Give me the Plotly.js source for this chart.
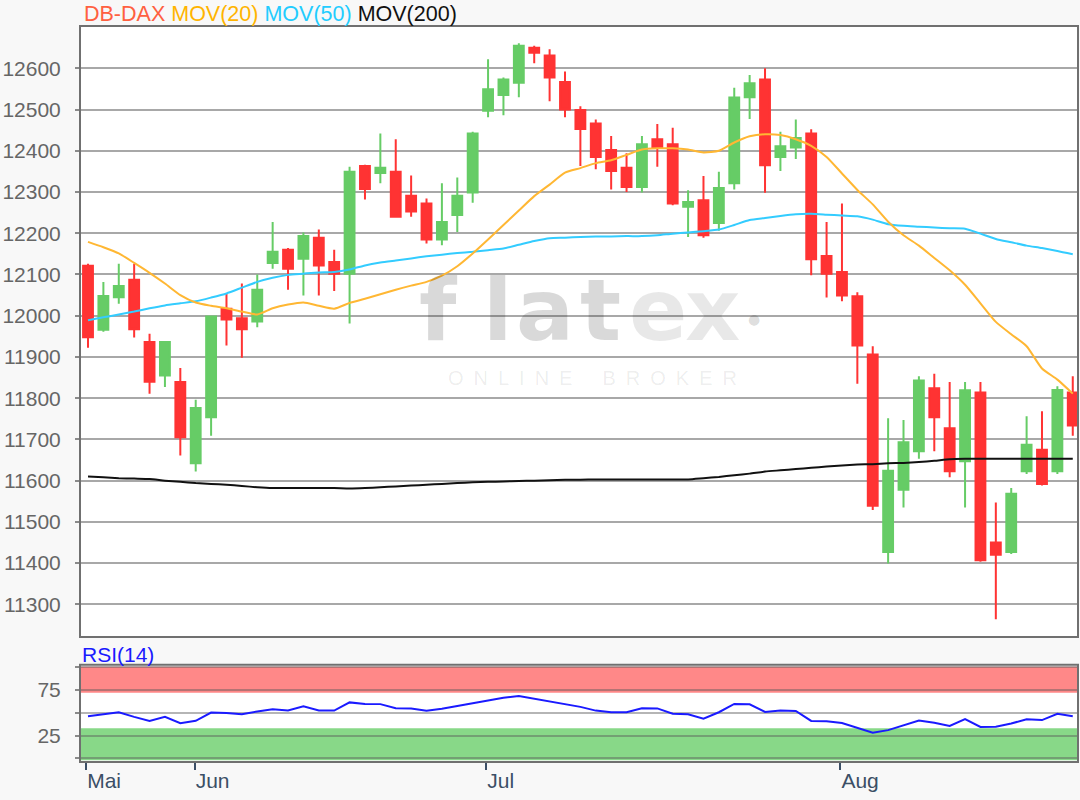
<!DOCTYPE html>
<html>
<head>
<meta charset="utf-8">
<script src="https://cdn.plot.ly/plotly-3.0.1.min.js"></script>
<style>
html,body{margin:0;padding:0;background:#f8f8f8;}
#chart{width:1080px;height:800px;}
</style>
</head>
<body>
<div id="chart"></div>
<script>
// ---- data ----
const dates = [
 '2019-05-23','2019-05-24','2019-05-27','2019-05-28','2019-05-29','2019-05-30','2019-05-31',
 '2019-06-03','2019-06-04','2019-06-05','2019-06-06','2019-06-07','2019-06-11','2019-06-12','2019-06-13','2019-06-14',
 '2019-06-17','2019-06-18','2019-06-19','2019-06-20','2019-06-21','2019-06-24','2019-06-25','2019-06-26','2019-06-27','2019-06-28',
 '2019-07-01','2019-07-02','2019-07-03','2019-07-04','2019-07-05','2019-07-08','2019-07-09','2019-07-10','2019-07-11','2019-07-12',
 '2019-07-15','2019-07-16','2019-07-17','2019-07-18','2019-07-19','2019-07-22','2019-07-23','2019-07-24','2019-07-25','2019-07-26',
 '2019-07-29','2019-07-30','2019-07-31',
 '2019-08-01','2019-08-02','2019-08-05','2019-08-06','2019-08-07','2019-08-08','2019-08-09','2019-08-12','2019-08-13','2019-08-14',
 '2019-08-15','2019-08-16','2019-08-19','2019-08-20','2019-08-21','2019-08-22'
];
const openP = [12121,11966,12045,12087,11936,11855,11839,11642,11754,12017,11994,11986,12128,12160,12138,12189,12130,12102,12363,12346,
 12349,12291,12272,12185,12244,12299,12497,12535,12565,12650,12631,12567,12499,12466,12402,12359,12312,12428,12416,12264,
 12280,12225,12321,12530,12573,12385,12408,12442,12145,12106,12047,11906,11427,11578,11671,11824,11727,11647,11814,11450,
 11427,11623,11675,11623,11814];
const highP = [12126,12082,12126,12126,11956,11938,11873,11796,12000,12053,12078,12100,12227,12164,12202,12209,12160,12361,12366,12442,
 12428,12340,12284,12321,12335,12446,12622,12578,12661,12655,12646,12592,12508,12476,12436,12394,12436,12465,12456,12304,
 12339,12349,12553,12584,12600,12446,12476,12452,12227,12272,12057,11926,11751,11747,11853,11859,11839,11839,11839,11547,
 11582,11756,11768,11829,11853];
const lowP = [11922,11961,12029,11947,11811,11827,11661,11622,11709,11928,11898,11972,12114,12063,12049,12049,12060,11981,12282,12321,
 12238,12240,12175,12171,12203,12274,12481,12486,12530,12612,12520,12481,12363,12355,12306,12300,12299,12361,12268,12191,
 12189,12206,12306,12477,12298,12351,12380,12098,12044,12035,11835,11529,11399,11535,11653,11671,11608,11535,11403,11264,
 11422,11616,11588,11616,11709];
const closeP = [11948,12048,12072,11967,11840,11936,11705,11776,11998,11991,11967,12063,12155,12114,12193,12122,12102,12349,12307,12359,
 12240,12253,12185,12227,12291,12442,12549,12573,12655,12638,12578,12500,12453,12385,12351,12312,12416,12408,12272,12276,
 12195,12310,12529,12564,12365,12411,12431,12137,12102,12049,11928,11539,11624,11693,11843,11754,11623,11819,11407,11420,
 11568,11687,11592,11820,11734];
const mov20 = [12179,12166,12151,12128,12104,12078,12050,12032,12024,12018,12010,12003,12018,12027,12032,12024,12017,12031,12041,12052,
 12063,12073,12082,12097,12120,12151,12185,12220,12255,12290,12318,12347,12358,12370,12377,12390,12403,12406,12406,12403,
 12396,12400,12420,12435,12440,12438,12428,12412,12385,12345,12305,12270,12228,12195,12170,12140,12110,12075,12030,11985,
 11955,11926,11872,11845,11811];
const mov50 = [11989,11996,12003,12010,12018,12025,12030,12035,12044,12054,12068,12082,12092,12099,12102,12105,12106,12112,12122,12129,
 12134,12139,12144,12148,12152,12155,12159,12163,12172,12181,12188,12189,12191,12192,12192,12193,12193,12195,12199,12202,
 12205,12209,12220,12232,12237,12242,12246,12247,12245,12243,12241,12233,12222,12218,12216,12214,12212,12211,12199,12186,
 12178,12170,12164,12157,12149];
const mov200 = [11610,11608,11606,11605,11604,11600,11597,11594,11592,11590,11587,11584,11582,11582,11582,11582,11582,11581,11582,11584,
 11586,11588,11590,11592,11594,11596,11597,11598,11599,11600,11601,11602,11602,11603,11603,11603,11603,11603,11603,11603,
 11606,11609,11613,11617,11622,11625,11628,11631,11634,11637,11639,11640,11642,11643,11645,11648,11652,11653,11653,11653,
 11653,11653,11653,11653,11653];
const rsi14 = [46.2,48.5,50.5,45.5,41.0,45.7,38.6,41.2,50.2,49.9,48.4,51.5,54.0,52.5,57.0,52.5,52.5,61.4,59.7,59.5,
 55.0,54.7,52.2,54.5,57.5,61.0,64.0,66.5,68.5,65.5,62.5,59.2,56.5,52.4,50.6,50.7,55.0,54.8,49.0,48.4,
 43.5,50.6,59.7,59.3,51.0,52.5,52.0,41.1,40.8,38.8,33.5,28.2,31.0,36.0,41.5,39.0,35.5,43.0,34.5,34.7,
 38.2,43.0,42.0,49.0,46.2];
const priceTicks = [11300,11400,11500,11600,11700,11800,11900,12000,12100,12200,12300,12400,12500,12600];
const rsiTicks = [0,25,50,75,100];
const rsiTickText = ['','25','','75',''];
const monthTickPos = [-0.12, 6.93, 25.88, 48.9];
const monthTickText = ['Mai','Jun','Jul','Aug'];

// ---- drawing ----
const xi = dates.map((d, i) => i);
const W = 1080, H = 800, ML = 80, MR = 2, MT = 26, MB = 38;
const px = x => (x - ML) / (W - ML - MR);
const py = y => (H - MB - y) / (H - MT - MB);

const FONT = 'Arial, "Liberation Sans", sans-serif';
const GREEN = '#66CC66', RED = '#FF3333';

const traces = [
  {
    type: 'candlestick', x: xi, open: openP, high: highP, low: lowP, close: closeP,
    text: dates, hoverinfo: 'text+y',
    xaxis: 'x', yaxis: 'y',
    increasing: {line: {color: GREEN, width: 2}, fillcolor: GREEN},
    decreasing: {line: {color: RED, width: 2}, fillcolor: RED},
    whiskerwidth: 0, showlegend: false
  },
  {type: 'scatter', mode: 'lines', x: xi, y: mov200, xaxis: 'x', yaxis: 'y',
   line: {color: '#111111', width: 2, shape: 'spline', smoothing: 0.6}, showlegend: false, hoverinfo: 'skip'},
  {type: 'scatter', mode: 'lines', x: xi, y: mov50, xaxis: 'x', yaxis: 'y',
   line: {color: '#33CCFF', width: 2, shape: 'spline', smoothing: 0.6}, showlegend: false, hoverinfo: 'skip'},
  {type: 'scatter', mode: 'lines', x: xi, y: mov20, xaxis: 'x', yaxis: 'y',
   line: {color: '#FFB733', width: 2, shape: 'spline', smoothing: 0.6}, showlegend: false, hoverinfo: 'skip'},
  {type: 'scatter', mode: 'lines', x: xi, y: rsi14, xaxis: 'x', yaxis: 'y2',
   line: {color: '#1a1aff', width: 2}, showlegend: false, hoverinfo: 'skip'}
];

const wmLetters = [
  {t: 'f', x: 438, c: 'rgba(0,0,0,0.15)'},
  {t: 'l', x: 497, c: 'rgba(0,0,0,0.15)'},
  {t: 'a', x: 545, c: 'rgba(0,0,0,0.15)'},
  {t: 't', x: 600, c: 'rgba(0,0,0,0.15)'},
  {t: 'e', x: 658, c: 'rgba(0,0,0,0.09)'},
  {t: 'x', x: 712, c: 'rgba(0,0,0,0.09)'}
];
const annotations = wmLetters.map(l => ({
  xref: 'paper', yref: 'paper', x: px(l.x), y: py(310), xanchor: 'center', yanchor: 'middle',
  text: l.t, showarrow: false, font: {family: '"DejaVu Sans", sans-serif', size: 86, color: l.c, weight: 'bold'}
}));
annotations.push({
  xref: 'paper', yref: 'paper', x: px(754), y: py(319), xanchor: 'center', yanchor: 'middle',
  text: '●', showarrow: false, font: {family: '"DejaVu Sans", sans-serif', size: 14, color: 'rgba(0,0,0,0.15)'}
});
annotations.push({
  xref: 'paper', yref: 'paper', x: px(592), y: py(378), xanchor: 'center', yanchor: 'middle',
  text: 'O\u2002N\u2002L\u2002I\u2002N\u2002E\u2002\u2002\u2002B\u2002R\u2002O\u2002K\u2002E\u2002R', showarrow: false,
  font: {family: FONT, size: 20, color: 'rgba(0,0,0,0.08)'}
});
annotations.push({
  xref: 'paper', yref: 'paper', x: px(82), y: py(14), xanchor: 'left', yanchor: 'middle', showarrow: false,
  text: '<span style="color:#FF6040">DB-DAX</span> <span style="color:#FFB400">MOV(20)</span> <span style="color:#22CCFF">MOV(50)</span> <span style="color:#111111">MOV(200)</span>',
  font: {family: FONT, size: 21.5, color: '#111'}
});
annotations.push({
  xref: 'paper', yref: 'paper', x: px(80), y: py(654), xanchor: 'left', yanchor: 'middle', showarrow: false,
  text: 'RSI(14)', font: {family: FONT, size: 21, color: '#1a1aff'}
});

const shapes = [
  {type: 'rect', xref: 'x domain', yref: 'y2', x0: 0, x1: 1, y0: 72, y1: 100.4, fillcolor: '#FF8888', line: {width: 0}, layer: 'below'},
  {type: 'rect', xref: 'x domain', yref: 'y2', x0: 0, x1: 1, y0: -2, y1: 33, fillcolor: '#88D888', line: {width: 0}, layer: 'below'},
  {type: 'rect', xref: 'x domain', yref: 'y domain', x0: 0, x1: 1, y0: 0, y1: 1, line: {color: '#707070', width: 2}, layer: 'above'},
  {type: 'rect', xref: 'x domain', yref: 'y2 domain', x0: 0, x1: 1, y0: 0, y1: 1, line: {color: '#707070', width: 2}, layer: 'above'}
];

const layout = {
  width: W, height: H,
  margin: {l: ML, r: MR, t: MT, b: MB, pad: 0},
  paper_bgcolor: '#f8f8f8', plot_bgcolor: '#ffffff',
  showlegend: false, hovermode: 'closest',
  boxgap: 0, boxgroupgap: 0.36,
  font: {family: FONT, size: 21, color: '#666'},
  xaxis: {
    anchor: 'y2', range: [-0.52, 64.34], showgrid: false, zeroline: false, showline: false,
    tickmode: 'array', tickvals: monthTickPos, ticktext: monthTickText,
    ticks: 'outside', ticklen: 7, tickwidth: 2, tickcolor: '#3b4f66',
    ticklabelposition: 'outside right',
    tickfont: {family: FONT, size: 21, color: '#3b4f66'},
    rangeslider: {visible: false}, fixedrange: true
  },
  yaxis: {
    domain: [0.1698, 1], range: [11220.7, 12702.6],
    tickmode: 'array', tickvals: priceTicks, tickformat: 'd',
    showgrid: true, gridcolor: '#a8a8a8', gridwidth: 2, zeroline: false, showline: false,
    ticks: 'outside', ticklen: 4, tickcolor: '#8a8a8a', tickwidth: 2,
    tickfont: {family: FONT, size: 21, color: '#666'}, ticklabelstandoff: 10, fixedrange: true
  },
  yaxis2: {
    domain: [0, 0.1321], range: [-3.9, 102.6],
    tickmode: 'array', tickvals: rsiTicks, ticktext: rsiTickText,
    showgrid: true, gridcolor: 'rgba(90,90,90,0.45)', gridwidth: 2, zeroline: false, showline: false,
    ticks: 'outside', ticklen: 4, tickcolor: '#8a8a8a', tickwidth: 2,
    tickfont: {family: FONT, size: 21, color: '#666'}, ticklabelstandoff: 10, fixedrange: true
  },
  shapes: shapes,
  annotations: annotations
};

Plotly.newPlot('chart', traces, layout, {displayModeBar: false, staticPlot: false});
</script>
</body>
</html>
